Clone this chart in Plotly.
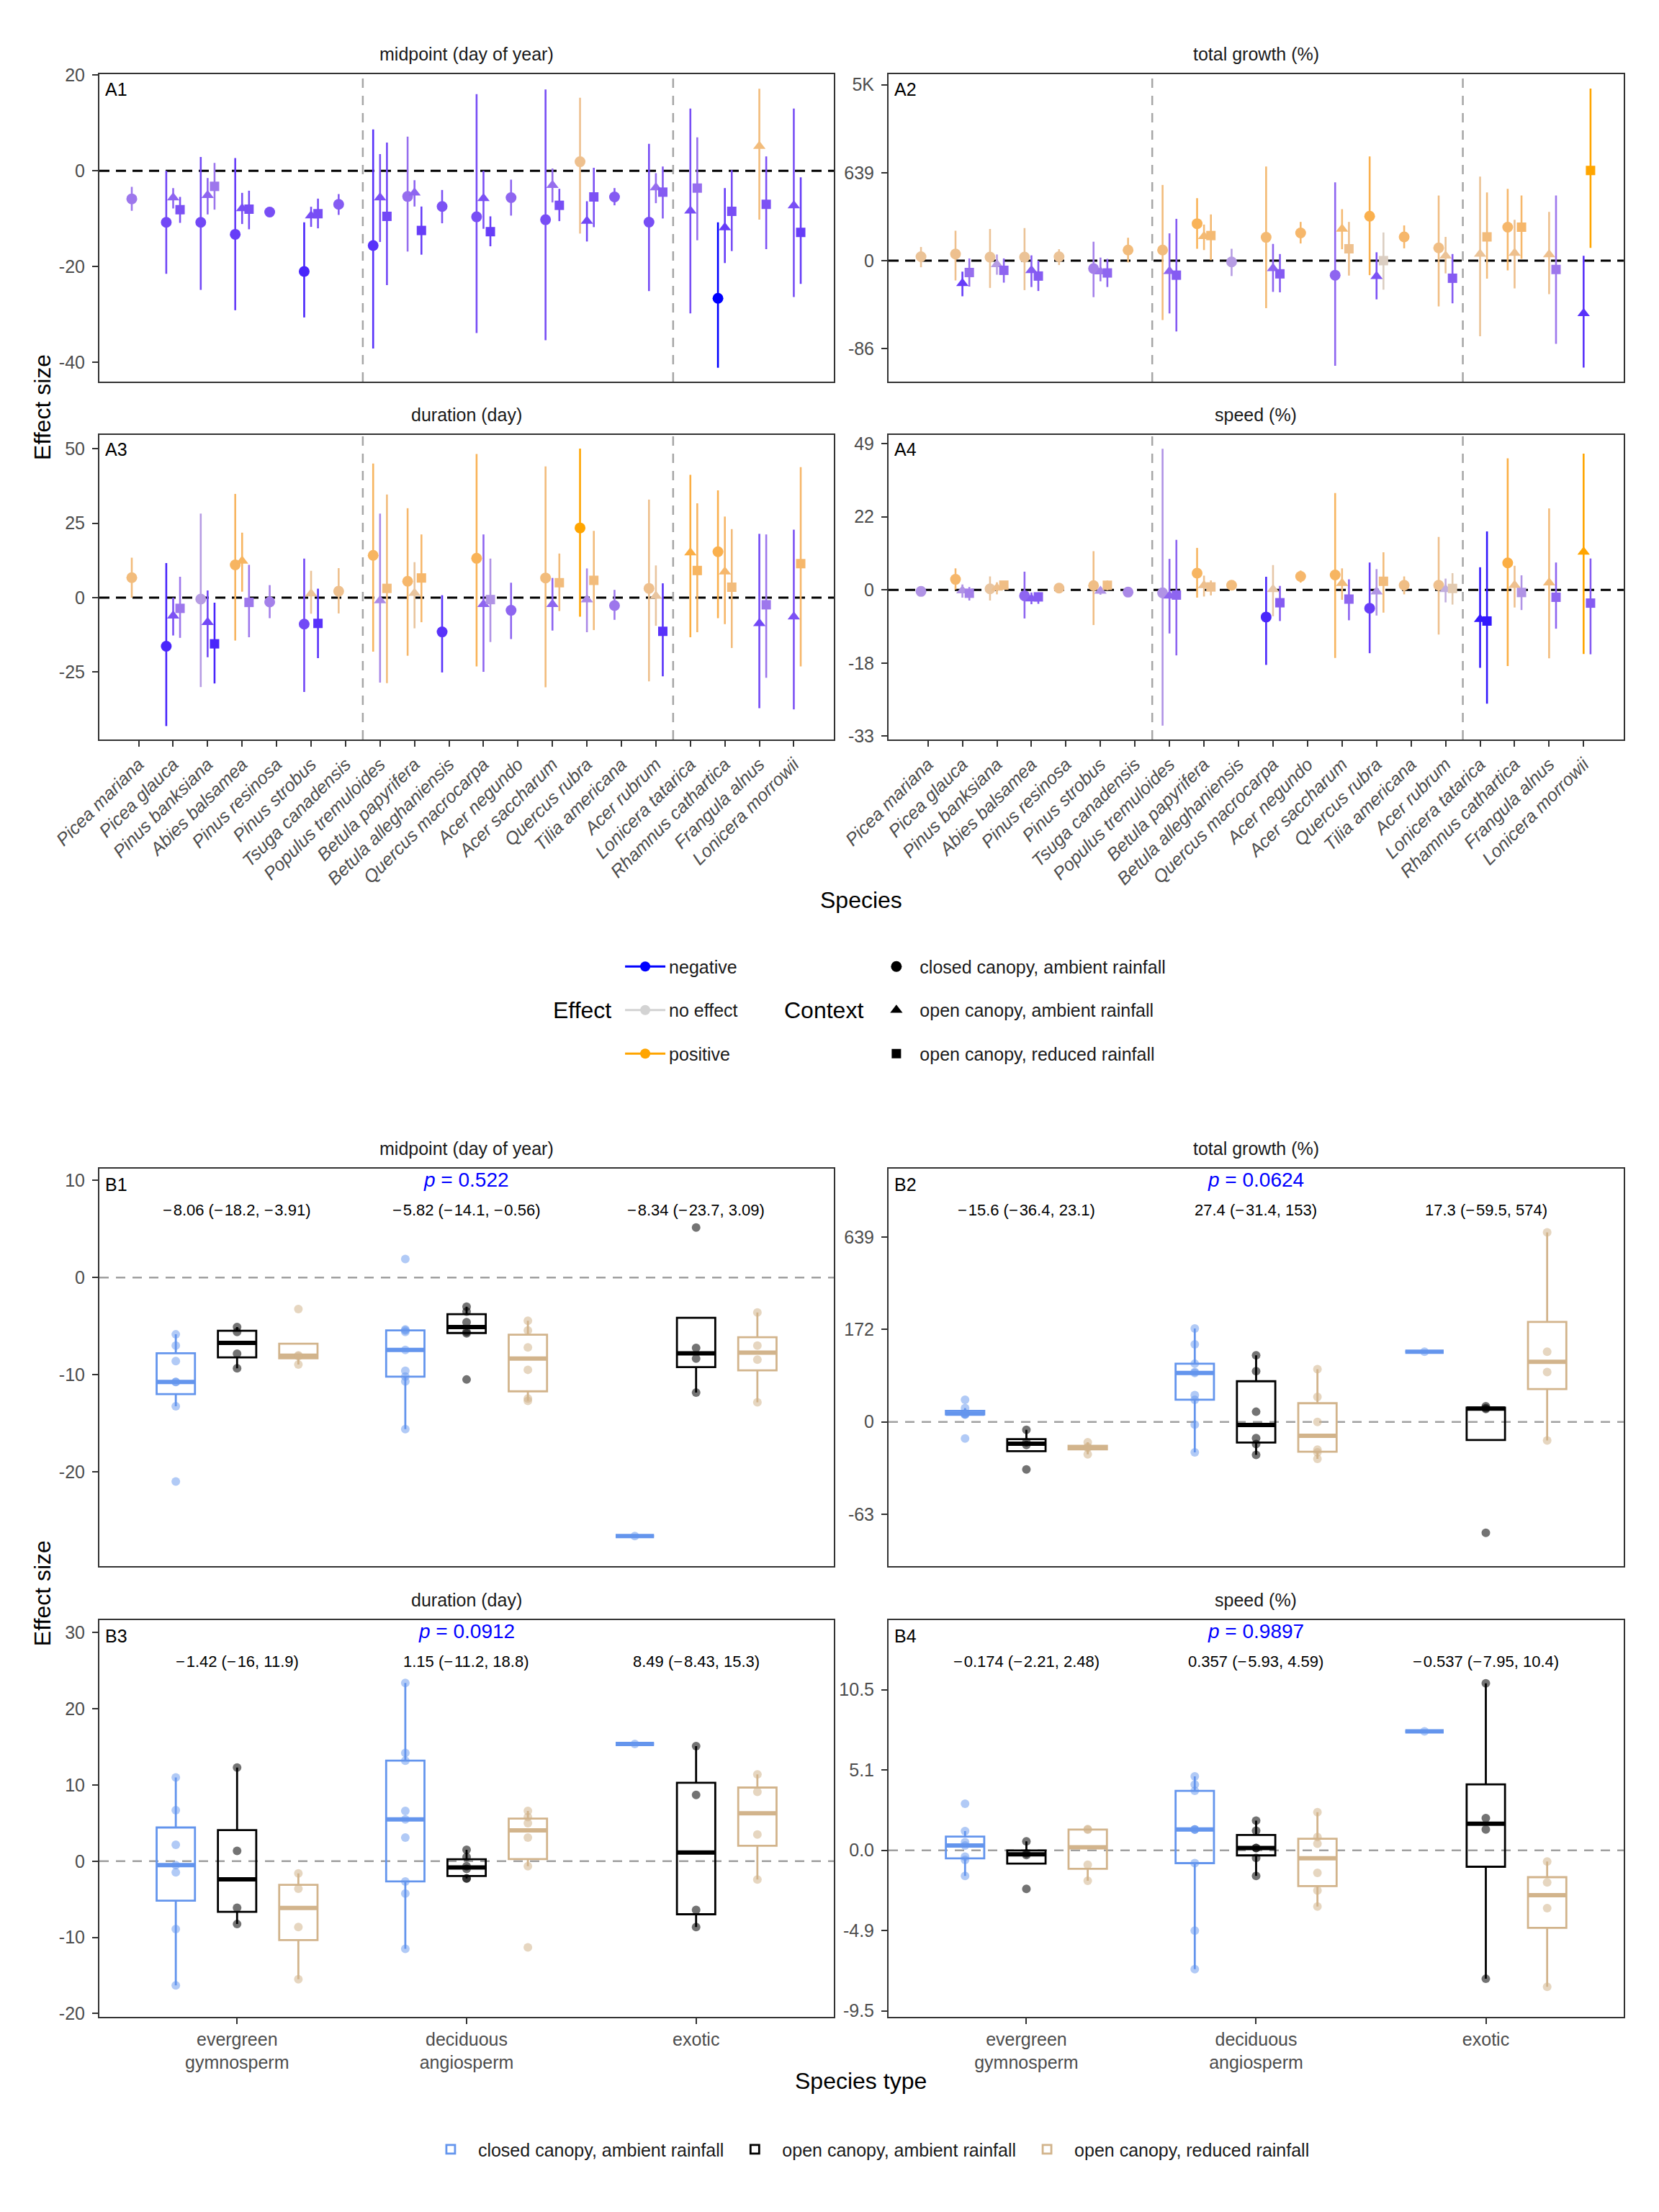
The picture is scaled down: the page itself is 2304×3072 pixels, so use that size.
import numpy as np
import plotly.graph_objects as go

N = None
FONT = "Liberation Sans, Arial, Helvetica, sans-serif"

# ---------------- categories ----------------
SPECIES = ["Picea mariana", "Picea glauca", "Pinus banksiana", "Abies balsamea",
           "Pinus resinosa", "Pinus strobus", "Tsuga canadensis",
           "Populus tremuloides", "Betula papyrifera", "Betula alleghaniensis",
           "Quercus macrocarpa", "Acer negundo", "Acer saccharum", "Quercus rubra",
           "Tilia americana", "Acer rubrum", "Lonicera tatarica",
           "Rhamnus cathartica", "Frangula alnus", "Lonicera morrowii"]
SPECIES_TYPE = ["EG", "EG", "EG", "EG", "EG", "EG", "EG",
                "DA", "DA", "DA", "DA", "DA", "DA", "DA", "DA", "DA",
                "EX", "EX", "EX", "EX"]
TYPE_CODES = ["EG", "DA", "EX"]
TYPE_LABELS = ["evergreen<br>gymnosperm", "deciduous<br>angiosperm", "exotic"]
TYPE_DIVIDERS = [7.5, 16.5]
CONTEXTS = ["closed canopy, ambient rainfall", "open canopy, ambient rainfall",
            "open canopy, reduced rainfall"]
EFFECT_LEVELS = ["negative", "no effect", "positive"]

# ---------------- A1: midpoint (day of year) ----------------
MID_CLOSED = [-5.85, -10.75, -10.75, -13.25, -8.6, -21.0, -7.0, -15.6, -5.35, -7.45, -9.6, -5.6, -10.2, 1.9, -5.45, -10.7, N, -26.6, N, N]
MID_CLOSED_LO = [-8.35, -21.5, -24.85, -29.1, -9.0, -30.6, -9.2, -37.1, -16.85, -10.95, -33.85, -9.35, -35.35, -13.1, -7.2, -25.1, N, -41.1, N, N]
MID_CLOSED_HI = [-3.35, 0.0, 2.9, 2.65, -8.2, -10.75, -4.85, 8.65, 7.15, -4.0, 16.0, -1.85, 17.0, 15.25, -3.6, 5.65, N, -10.75, N, N]
MID_CLOSED_DIR = [-0.5, -0.75, -0.75, -0.8, -0.72, -0.9, -0.65, -0.85, -0.55, -0.7, -0.72, -0.6, -0.72, 0.4, -0.65, -0.72, N, -1.0, N, N]
MID_OPEN = [N, -5.6, -5.1, -7.85, N, -9.35, N, -5.6, -4.6, N, -5.75, N, -3.0, -10.5, N, -3.5, -8.35, -11.85, 5.15, -7.25]
MID_OPEN_LO = [N, -7.85, -9.1, -11.1, N, -11.7, N, -14.85, -7.45, N, -12.1, N, -6.6, -14.75, N, -6.75, -29.75, -19.25, -10.2, -26.35]
MID_OPEN_HI = [N, -3.6, -1.5, -4.6, N, -7.5, N, 3.5, -1.95, N, 0.0, N, 0.5, -6.35, N, -0.5, 13.0, -3.6, 17.15, 13.0]
MID_OPEN_DIR = [N, -0.6, -0.6, -0.72, N, -0.72, N, -0.7, -0.6, N, -0.7, N, -0.55, -0.75, N, -0.55, -0.72, -0.8, 0.5, -0.72]
MID_DRY = [N, -8.1, -3.25, -8.0, N, -8.95, N, -9.5, -12.45, N, -12.7, N, -7.2, -5.45, N, -4.45, -3.6, -8.45, -7.0, -12.85]
MID_DRY_LO = [N, -10.85, -8.1, -12.2, N, -12.0, N, -23.85, -17.5, N, -15.75, N, -10.5, -11.75, N, -9.95, -14.5, -16.75, -16.35, -23.6]
MID_DRY_HI = [N, -5.45, 1.65, -4.15, N, -5.8, N, 5.9, -7.45, N, -9.5, N, -3.75, 0.65, N, 0.9, 7.0, 0.15, 3.0, -1.35]
MID_DRY_DIR = [N, -0.7, -0.5, -0.72, N, -0.72, N, -0.75, -0.8, N, -0.8, N, -0.72, -0.7, N, -0.65, -0.55, -0.72, -0.7, -0.8]

# ---------------- A2: total growth (log response ratio; labels in %) ----------------
GRO_CLOSED = [0.09, 0.15, 0.08, 0.08, 0.09, -0.18, 0.24, 0.24, 0.84, -0.03, 0.53, 0.63, -0.33, 1.01, 0.54, 0.29, N, 0.76, N, N]
GRO_CLOSED_LO = [-0.15, -0.45, -0.62, -0.67, -0.1, -0.83, -0.04, -1.35, 0.27, -0.35, -1.08, 0.39, -2.39, -0.33, 0.28, -1.04, N, -0.22, N, N]
GRO_CLOSED_HI = [0.31, 0.68, 0.72, 0.74, 0.26, 0.43, 0.52, 1.72, 1.42, 0.27, 2.14, 0.88, 1.78, 2.37, 0.8, 1.48, N, 1.63, N, N]
GRO_CLOSED_DIR = [0.35, 0.4, 0.35, 0.35, 0.35, -0.45, 0.5, 0.5, 0.7, -0.3, 0.55, 0.6, -0.6, 0.75, 0.6, 0.45, N, 0.6, N, N]
GRO_OPEN = [N, -0.515, -0.086, -0.22, N, -0.25, N, -0.24, 0.55, N, -0.175, N, 0.72, -0.357, N, 0.11, 0.15, 0.17, 0.14, -1.2]
GRO_OPEN_LO = [N, -0.81, -0.32, -0.6, N, -0.47, N, -1.2, 0.24, N, -0.71, N, 0.26, -0.88, N, -0.29, -1.72, -0.63, -0.76, -2.43]
GRO_OPEN_HI = [N, -0.25, 0.14, 0.12, N, 0.07, N, 0.62, 0.82, N, 0.38, N, 1.17, 0.19, N, 0.54, 1.91, 0.93, 1.11, 0.11]
GRO_OPEN_DIR = [N, -0.8, -0.3, -0.65, N, -0.5, N, -0.6, 0.55, N, -0.6, N, 0.55, -0.7, N, 0.35, 0.35, 0.4, 0.4, -0.85]
GRO_DRY = [N, -0.27, -0.22, -0.35, N, -0.28, N, -0.33, 0.57, N, -0.3, N, 0.27, 0.0, N, -0.4, 0.54, 0.76, -0.2, 2.05]
GRO_DRY_LO = [N, -0.59, -0.5, -0.69, N, -0.6, N, -1.61, 0.01, N, -0.72, N, -0.34, -0.66, N, -0.97, -0.41, 0.04, -1.89, 0.29]
GRO_DRY_HI = [N, 0.05, 0.05, 0.0, N, 0.04, N, 0.95, 1.05, N, 0.15, N, 0.88, 0.64, N, 0.15, 1.55, 1.48, 1.48, 3.91]
GRO_DRY_DIR = [N, -0.55, -0.6, -0.65, N, -0.6, N, -0.65, 0.55, N, -0.65, N, 0.4, 0.1, N, -0.65, 0.5, 0.6, -0.5, 1.0]

# ---------------- A3: duration (day) ----------------
DUR_CLOSED = [6.7, -16.3, -0.5, 11.0, -1.45, -8.9, 2.15, 14.2, 5.5, -11.5, 13.2, -4.25, 6.6, 23.4, -2.65, 3.1, N, 15.4, N, N]
DUR_CLOSED_LO = [0.0, -43.1, -30.0, -14.4, -6.9, -31.65, -5.3, -18.1, -19.5, -25.1, -23.1, -13.9, -30.1, -6.4, -7.45, -28.1, N, -6.9, N, N]
DUR_CLOSED_HI = [13.4, 11.6, 28.2, 34.8, 4.2, 13.1, 9.9, 45.0, 30.0, 0.8, 48.2, 5.0, 44.0, 50.0, 2.6, 32.9, N, 36.0, N, N]
DUR_CLOSED_DIR = [0.5, -0.9, -0.3, 0.65, -0.45, -0.75, 0.4, 0.65, 0.6, -0.85, 0.7, -0.6, 0.5, 1.0, -0.5, 0.4, N, 0.75, N, N]
DUR_OPEN = [N, -6.1, -8.25, 12.3, N, 1.35, N, -1.0, 1.5, N, -2.25, N, -2.25, -0.65, N, 0.55, 15.1, 8.7, -8.65, -6.4]
DUR_OPEN_LO = [N, -12.7, -20.0, 2.0, N, -5.4, N, -28.5, -10.3, N, -24.9, N, -11.05, -11.6, N, -9.45, -13.3, -8.9, -37.1, -37.5]
DUR_OPEN_HI = [N, 0.0, 2.4, 21.8, N, 9.0, N, 28.2, 11.9, N, 21.2, N, 6.6, 9.8, N, 10.8, 41.2, 27.2, 21.4, 22.8]
DUR_OPEN_DIR = [N, -0.7, -0.75, 0.65, N, 0.35, N, -0.4, 0.3, N, -0.6, N, -0.6, -0.4, N, 0.3, 0.8, 0.6, -0.75, -0.7]
DUR_DRY = [N, -3.6, -15.5, -1.6, N, -8.65, N, 3.1, 6.6, N, -0.65, N, 5.0, 5.8, N, -11.3, 9.1, 3.5, -2.4, 11.4]
DUR_DRY_LO = [N, -13.5, -28.8, -13.3, N, -20.3, N, -28.7, -8.25, N, -14.9, N, -4.5, -10.9, N, -26.4, -11.6, -16.9, -26.9, -23.1]
DUR_DRY_HI = [N, 7.0, -1.7, 11.0, N, 3.0, N, 34.6, 21.2, N, 13.1, N, 14.8, 22.4, N, 4.8, 31.65, 23.0, 21.2, 43.8]
DUR_DRY_DIR = [N, -0.5, -0.9, -0.5, N, -0.85, N, 0.5, 0.6, N, -0.35, N, 0.5, 0.5, N, -0.85, 0.65, 0.5, -0.5, 0.6]

# ---------------- A4: speed (log response ratio; labels in %) ----------------
SPD_CLOSED = [-0.004, 0.029, 0.003, -0.016, 0.005, 0.012, -0.006, -0.008, 0.046, 0.013, -0.074, 0.037, 0.041, -0.05, 0.013, 0.013, N, 0.074, N, N]
SPD_CLOSED_LO = [-0.006, 0.001, -0.029, -0.078, -0.005, -0.096, -0.008, -0.371, -0.021, 0.0, -0.205, 0.02, -0.186, -0.173, -0.012, -0.122, N, -0.208, N, N]
SPD_CLOSED_HI = [-0.002, 0.059, 0.037, 0.05, 0.014, 0.106, -0.004, 0.386, 0.115, 0.026, 0.036, 0.053, 0.265, 0.075, 0.037, 0.145, N, 0.36, N, N]
SPD_CLOSED_DIR = [-0.35, 0.6, 0.3, -0.6, 0.4, 0.45, -0.4, -0.35, 0.65, 0.5, -0.9, 0.6, 0.65, -0.8, 0.45, 0.4, N, 0.8, N, N]
SPD_OPEN = [N, -0.002, 0.0056, -0.024, N, -0.003, N, -0.016, 0.0122, N, 0.0014, N, 0.0184, -0.0047, N, 0.0014, -0.08, 0.013, 0.02, 0.104]
SPD_OPEN_LO = [N, -0.021, -0.012, -0.039, N, -0.013, N, -0.119, -0.018, N, -0.072, N, -0.027, -0.07, N, -0.034, -0.213, -0.048, -0.187, -0.175]
SPD_OPEN_HI = [N, 0.015, 0.021, -0.007, N, 0.008, N, 0.085, 0.039, N, 0.068, N, 0.059, 0.057, N, 0.031, 0.062, 0.066, 0.223, 0.373]
SPD_OPEN_DIR = [N, -0.35, 0.4, -0.65, N, -0.35, N, -0.6, 0.4, N, 0.25, N, 0.5, -0.35, N, -0.2, -0.95, 0.4, 0.5, 1.0]
SPD_DRY = [N, -0.009, 0.0132, -0.019, N, 0.0128, N, -0.014, 0.0082, N, -0.035, N, -0.025, 0.0237, N, 0.0041, -0.085, -0.007, -0.02, -0.036]
SPD_DRY_LO = [N, -0.029, 0.005, -0.038, N, -0.001, N, -0.179, -0.015, N, -0.085, N, -0.083, -0.062, N, -0.04, -0.311, -0.055, -0.106, -0.176]
SPD_DRY_HI = [N, 0.008, 0.024, -0.007, N, 0.026, N, 0.137, 0.026, N, 0.011, N, 0.029, 0.103, N, 0.046, 0.16, 0.04, 0.075, 0.086]
SPD_DRY_DIR = [N, -0.45, 0.45, -0.65, N, 0.45, N, -0.6, 0.4, N, -0.65, N, -0.6, 0.5, N, 0.2, -0.95, -0.35, -0.6, -0.65]

# ---------------- axis ticks ----------------
MID_TICKS = [-40, -20, 0, 20]
MID_TICKTEXT = ["-40", "-20", "0", "20"]
GRO_TICKS = [-2, 0, 2, 4]
GRO_TICKTEXT = ["-86", "0", "639", "5K"]
DUR_TICKS = [-25, 0, 25, 50]
DUR_TICKTEXT = ["-25", "0", "25", "50"]
SPD_TICKS = [-0.4, -0.2, 0, 0.2, 0.4]
SPD_TICKTEXT = ["-33", "-18", "0", "22", "49"]
B_MID_TICKS = [-20, -10, 0, 10]
B_MID_TICKTEXT = ["-20", "-10", "0", "10"]
B_GRO_TICKS = [-1, 0, 1, 2]
B_GRO_TICKTEXT = ["-63", "0", "172", "639"]
B_DUR_TICKS = [-20, -10, 0, 10, 20, 30]
B_DUR_TICKTEXT = ["-20", "-10", "0", "10", "20", "30"]
B_SPD_TICKS = [-0.1, -0.05, 0, 0.05, 0.1]
B_SPD_TICKTEXT = ["-9.5", "-4.9", "0.0", "5.1", "10.5"]

# ---------------- B annotations ----------------
M = "\u2212\u200a"
B_MID_LABELS = [f"{M}8.06 ({M}18.2, {M}3.91)", f"{M}5.82 ({M}14.1, {M}0.56)", f"{M}8.34 ({M}23.7, 3.09)"]
B_GRO_LABELS = [f"{M}15.6 ({M}36.4, 23.1)", f"27.4 ({M}31.4, 153)", f"17.3 ({M}59.5, 574)"]
B_DUR_LABELS = [f"{M}1.42 ({M}16, 11.9)", f"1.15 ({M}11.2, 18.8)", f"8.49 ({M}8.43, 15.3)"]
B_SPD_LABELS = [f"{M}0.174 ({M}2.21, 2.48)", f"0.357 ({M}5.93, 4.59)", f"{M}0.537 ({M}7.95, 10.4)"]
B_P_VALUES = ["0.522", "0.0624", "0.0912", "0.9897"]

# ---------------- styles ----------------
C_NEG, C_MID, C_POS = "#0000FF", "#D3D3D3", "#FFA500"
BOX_COLORS = ["#6495ED", "#000000", "#D2B48C"]
PT_COLORS = ["rgba(100,149,237,0.5)", "rgba(0,0,0,0.55)", "rgba(210,180,140,0.55)"]
SYMBOLS = ["circle", "triangle-up", "square"]
SIZES = [15, 15, 13]
DODGE_A = [-0.2, 0.0, 0.2]
DODGE_B = [-0.267, 0.0, 0.267]
BOX_W = 0.167
TICK_GRAY = "#4d4d4d"
BORDER = "#333333"

XD_L, XD_R = [0.0599, 0.5026], [0.5356, 0.9787]
YD_A1, YD_A2 = [0.82747, 0.96631], [0.66569, 0.80339]
YD_B1, YD_B2 = [0.29199, 0.47168], [0.08822, 0.26758]


# ----- Lab colour interpolation (as ggplot's gradient2) -----
def _lin(c):
    return c / 12.92 if c <= 0.04045 else ((c + 0.055) / 1.055) ** 2.4


def _gam(c):
    c = min(max(c, 0.0), 1.0)
    return 12.92 * c if c <= 0.0031308 else 1.055 * c ** (1 / 2.4) - 0.055


WP = (0.95047, 1.0, 1.08883)


def _f(t):
    return t ** (1 / 3) if t > (6 / 29) ** 3 else t / (3 * (6 / 29) ** 2) + 4 / 29


def _finv(t):
    return t ** 3 if t > 6 / 29 else 3 * (6 / 29) ** 2 * (t - 4 / 29)


def to_lab(h):
    h = h.lstrip("#")
    r, g, b = [_lin(int(h[i:i + 2], 16) / 255) for i in (0, 2, 4)]
    X = 0.4124 * r + 0.3576 * g + 0.1805 * b
    Y = 0.2126 * r + 0.7152 * g + 0.0722 * b
    Z = 0.0193 * r + 0.1192 * g + 0.9505 * b
    fx, fy, fz = _f(X / WP[0]), _f(Y / WP[1]), _f(Z / WP[2])
    return (116 * fy - 16, 500 * (fx - fy), 200 * (fy - fz))


def from_lab(L, a, b):
    fy = (L + 16) / 116
    fx, fz = fy + a / 500, fy - b / 200
    X, Y, Z = WP[0] * _finv(fx), WP[1] * _finv(fy), WP[2] * _finv(fz)
    r = 3.2406 * X - 1.5372 * Y - 0.4986 * Z
    g = -0.9689 * X + 1.8758 * Y + 0.0415 * Z
    bb = 0.0557 * X - 0.2040 * Y + 1.0570 * Z
    return "#%02x%02x%02x" % tuple(int(round(_gam(c) * 255)) for c in (r, g, bb))


def effect_color(s):
    a, b = to_lab(C_MID), to_lab(C_NEG if s < 0 else C_POS)
    t = min(abs(s), 1.0)
    return from_lab(*[a[i] + (b[i] - a[i]) * t for i in range(3)])


def box_stats(vals):
    v = np.sort(np.asarray(vals, float))
    q1, med, q3 = np.percentile(v, [25, 50, 75])
    iqr = q3 - q1
    lo = v[v >= q1 - 1.5 * iqr].min()
    hi = v[v <= q3 + 1.5 * iqr].max()
    return q1, med, q3, lo, hi


def ax_names(k):
    return ("x" if k == 1 else f"x{k}", "y" if k == 1 else f"y{k}",
            "xaxis" if k == 1 else f"xaxis{k}", "yaxis" if k == 1 else f"yaxis{k}")


PANELS = [
    dict(k=1, tag="A1", title="midpoint (day of year)", xd=XD_L, yd=YD_A1,
         rng=[-44.0, 20.1], ticks=MID_TICKS, ticktext=MID_TICKTEXT,
         data=[(MID_CLOSED, MID_CLOSED_LO, MID_CLOSED_HI, MID_CLOSED_DIR),
               (MID_OPEN, MID_OPEN_LO, MID_OPEN_HI, MID_OPEN_DIR),
               (MID_DRY, MID_DRY_LO, MID_DRY_HI, MID_DRY_DIR)],
         b=dict(k=5, tag="B1", yd=YD_B1, rng=[-29.7, 11.2], ticks=B_MID_TICKS,
                ticktext=B_MID_TICKTEXT, labels=B_MID_LABELS, p=B_P_VALUES[0])),
    dict(k=2, tag="A2", title="total growth (%)", xd=XD_R, yd=YD_A1,
         rng=[-2.75, 4.23], ticks=GRO_TICKS, ticktext=GRO_TICKTEXT,
         data=[(GRO_CLOSED, GRO_CLOSED_LO, GRO_CLOSED_HI, GRO_CLOSED_DIR),
               (GRO_OPEN, GRO_OPEN_LO, GRO_OPEN_HI, GRO_OPEN_DIR),
               (GRO_DRY, GRO_DRY_LO, GRO_DRY_HI, GRO_DRY_DIR)],
         b=dict(k=6, tag="B2", yd=YD_B1, rng=[-1.56, 2.74], ticks=B_GRO_TICKS,
                ticktext=B_GRO_TICKTEXT, labels=B_GRO_LABELS, p=B_P_VALUES[1])),
    dict(k=3, tag="A3", title="duration (day)", xd=XD_L, yd=YD_A2,
         rng=[-47.6, 54.6], ticks=DUR_TICKS, ticktext=DUR_TICKTEXT,
         data=[(DUR_CLOSED, DUR_CLOSED_LO, DUR_CLOSED_HI, DUR_CLOSED_DIR),
               (DUR_OPEN, DUR_OPEN_LO, DUR_OPEN_HI, DUR_OPEN_DIR),
               (DUR_DRY, DUR_DRY_LO, DUR_DRY_HI, DUR_DRY_DIR)],
         b=dict(k=7, tag="B3", yd=YD_B2, rng=[-20.43, 31.65], ticks=B_DUR_TICKS,
                ticktext=B_DUR_TICKTEXT, labels=B_DUR_LABELS, p=B_P_VALUES[2])),
    dict(k=4, tag="A4", title="speed (%)", xd=XD_R, yd=YD_A2,
         rng=[-0.409, 0.424], ticks=SPD_TICKS, ticktext=SPD_TICKTEXT,
         data=[(SPD_CLOSED, SPD_CLOSED_LO, SPD_CLOSED_HI, SPD_CLOSED_DIR),
               (SPD_OPEN, SPD_OPEN_LO, SPD_OPEN_HI, SPD_OPEN_DIR),
               (SPD_DRY, SPD_DRY_LO, SPD_DRY_HI, SPD_DRY_DIR)],
         b=dict(k=8, tag="B4", yd=YD_B2, rng=[-0.1037, 0.1433], ticks=B_SPD_TICKS,
                ticktext=B_SPD_TICKTEXT, labels=B_SPD_LABELS, p=B_P_VALUES[3])),
]

fig = go.Figure()
layout = dict(width=2304, height=3072, margin=dict(l=0, r=0, t=0, b=0),
              paper_bgcolor="white", plot_bgcolor="white", template="none",
              font=dict(family=FONT, size=25, color="#1a1a1a"),
              showlegend=True, boxmode="overlay", hovermode=False)
shapes, annotations = [], []


def axis_common(domain):
    return dict(domain=domain, showline=True, mirror=True, linecolor=BORDER, linewidth=2,
                showgrid=False, zeroline=False, automargin=False, fixedrange=True,
                tickfont=dict(family=FONT, size=25, color=TICK_GRAY),
                ticklen=8, tickwidth=2, tickcolor=BORDER)


def panel_title(text, xd, yd):
    annotations.append(dict(text=text, x=(xd[0] + xd[1]) / 2, y=yd[1] + 12 / 3072,
                            xref="paper", yref="paper", xanchor="center", yanchor="bottom",
                            showarrow=False, font=dict(family=FONT, size=25, color="#1a1a1a")))


def panel_tag(text, xn, yn):
    annotations.append(dict(text=text, x=0.006, y=0.99, xref=f"{xn} domain", yref=f"{yn} domain",
                            xanchor="left", yanchor="top", showarrow=False,
                            font=dict(family=FONT, size=25, color="black")))


for P in PANELS:
    # ---------- A panel ----------
    xn, yn, xk, yk = ax_names(P["k"])
    bottom = P["k"] in (3, 4)
    xa = axis_common(P["xd"])
    xa.update(anchor=yn, range=[-0.14, 21.16], tickmode="array",
              tickvals=list(range(1, len(SPECIES) + 1)), ticktext=SPECIES,
              showticklabels=bottom, ticks="outside" if bottom else "", tickangle=-45)
    xa["tickfont"] = dict(family=FONT, size=25, color=TICK_GRAY, style="italic")
    ya = axis_common(P["yd"])
    ya.update(anchor=xn, range=P["rng"], tickmode="array", tickvals=P["ticks"],
              ticktext=P["ticktext"], ticks="outside", ticklabelstandoff=5)
    layout[xk], layout[yk] = xa, ya
    shapes.append(dict(type="line", xref=f"{xn} domain", yref=yn, x0=0, x1=1, y0=0, y1=0,
                       line=dict(color="black", width=3, dash="14px,9px"), layer="below"))
    for xv in TYPE_DIVIDERS:
        shapes.append(dict(type="line", xref=xn, yref=f"{yn} domain", x0=xv, x1=xv, y0=0, y1=1,
                           line=dict(color="#a6a6a6", width=2.5, dash="13px,11px"), layer="below"))
    for ci, (m, lo, hi, d) in enumerate(P["data"]):
        for i in range(len(SPECIES)):
            if m[i] is None:
                continue
            col = effect_color(d[i])
            fig.add_trace(go.Scatter(
                x=[i + 1 + DODGE_A[ci]], y=[m[i]], mode="markers",
                marker=dict(symbol=SYMBOLS[ci], size=SIZES[ci], color=col, line=dict(width=0)),
                error_y=dict(type="data", symmetric=False, array=[hi[i] - m[i]],
                             arrayminus=[m[i] - lo[i]], color=col, thickness=2.6, width=0),
                xaxis=xn, yaxis=yn, showlegend=False, hoverinfo="skip"))
    panel_title(P["title"], P["xd"], P["yd"])
    panel_tag(P["tag"], xn, yn)

    # ---------- B panel ----------
    B = P["b"]
    xn, yn, xk, yk = ax_names(B["k"])
    bottom = B["k"] in (7, 8)
    xa = axis_common(P["xd"])
    xa.update(anchor=yn, range=[0.4, 3.6], tickmode="array", tickvals=[1, 2, 3],
              ticktext=TYPE_LABELS, showticklabels=bottom, ticks="outside" if bottom else "")
    ya = axis_common(B["yd"])
    ya.update(anchor=xn, range=B["rng"], tickmode="array", tickvals=B["ticks"],
              ticktext=B["ticktext"], ticks="outside", ticklabelstandoff=5)
    layout[xk], layout[yk] = xa, ya
    shapes.append(dict(type="line", xref=f"{xn} domain", yref=yn, x0=0, x1=1, y0=0, y1=0,
                       line=dict(color="#a0a0a0", width=2.5, dash="13px,10px"), layer="below"))
    for gi, code in enumerate(TYPE_CODES):
        for ci, (m, _, _, _) in enumerate(P["data"]):
            vals = [v for v, t in zip(m, SPECIES_TYPE) if t == code and v is not None]
            if not vals:
                continue
            pos = gi + 1 + DODGE_B[ci]
            q1, med, q3, lo, hi = box_stats(vals)
            fig.add_trace(go.Box(
                x=[pos], q1=[q1], median=[med], q3=[q3], lowerfence=[lo], upperfence=[hi],
                width=BOX_W, whiskerwidth=0, boxpoints=False,
                line=dict(color=BOX_COLORS[ci], width=2.8), fillcolor="rgba(255,255,255,0)",
                name=CONTEXTS[ci], legend="legend3", legendgroup=f"ctxb{ci}",
                showlegend=(B["k"] == 5 and gi == 0),
                xaxis=xn, yaxis=yn, hoverinfo="skip"))
            fig.add_trace(go.Scatter(
                x=[pos - BOX_W / 2, pos + BOX_W / 2], y=[med, med], mode="lines",
                line=dict(color=BOX_COLORS[ci], width=6), xaxis=xn, yaxis=yn,
                showlegend=False, hoverinfo="skip"))
            fig.add_trace(go.Scatter(
                x=[pos] * len(vals), y=vals, mode="markers",
                marker=dict(color=PT_COLORS[ci], size=12, line=dict(width=0)),
                xaxis=xn, yaxis=yn, showlegend=False, hoverinfo="skip"))
    for gi, lab in enumerate(B["labels"]):
        annotations.append(dict(text=lab, x=gi + 1, y=0.896, xref=xn, yref=f"{yn} domain",
                                xanchor="center", yanchor="middle", showarrow=False,
                                font=dict(family=FONT, size=22, color="black")))
    annotations.append(dict(text=f"<i>p</i> = {B['p']}", x=2, y=0.972, xref=xn, yref=f"{yn} domain",
                            xanchor="center", yanchor="middle", showarrow=False,
                            font=dict(family=FONT, size=28, color="#0000FF")))
    panel_title(P["title"], P["xd"], B["yd"])
    panel_tag(B["tag"], xn, yn)

# ---------- legends (dummy traces for A) ----------
for lvl, col in zip(EFFECT_LEVELS, [C_NEG, C_MID, C_POS]):
    fig.add_trace(go.Scatter(x=[None], y=[None], mode="lines+markers", name=lvl,
                             line=dict(color=col, width=3), marker=dict(color=col, size=14),
                             legend="legend", legendgroup=f"eff_{lvl}", xaxis="x", yaxis="y"))
for ci, ctx in enumerate(CONTEXTS):
    fig.add_trace(go.Scatter(x=[None], y=[None], mode="markers", name=ctx,
                             marker=dict(color="black", size=SIZES[ci], symbol=SYMBOLS[ci]),
                             legend="legend2", legendgroup=f"ctx{ci}", xaxis="x", yaxis="y"))

leg_font = dict(family=FONT, size=25, color="#1a1a1a")
layout["legend"] = dict(x=0.3746, y=0.5433, xanchor="left", yanchor="middle", orientation="v",
                        font=leg_font, tracegroupgap=25, itemwidth=56, bgcolor="rgba(0,0,0,0)")
layout["legend2"] = dict(x=0.5262, y=0.5433, xanchor="left", yanchor="middle", orientation="v",
                         font=leg_font, tracegroupgap=25, itemwidth=55, bgcolor="rgba(0,0,0,0)")
layout["legend3"] = dict(x=0.5234, y=0.0283, xanchor="center", yanchor="middle", orientation="h",
                         font=leg_font, itemwidth=66, bgcolor="rgba(0,0,0,0)")

# ---------- axis / legend titles ----------
big = dict(family=FONT, size=32, color="black")
for txt, x, y, ang in [("Effect size", 0.0256, 0.8161, -90), ("Effect size", 0.0256, 0.2799, -90),
                       ("Species", 0.519, 0.5931, 0), ("Species type", 0.519, 0.0592, 0),
                       ("Effect", 0.3511, 0.5433, 0), ("Context", 0.4965, 0.5433, 0)]:
    annotations.append(dict(text=txt, x=x, y=y, xref="paper", yref="paper", textangle=ang,
                            xanchor="center", yanchor="middle", showarrow=False, font=big))

layout["shapes"] = shapes
layout["annotations"] = annotations
fig.update_layout(**layout)
fig.write_html("out.html", config={"displayModeBar": False},
               post_script="document.body.style.margin='0px';")
